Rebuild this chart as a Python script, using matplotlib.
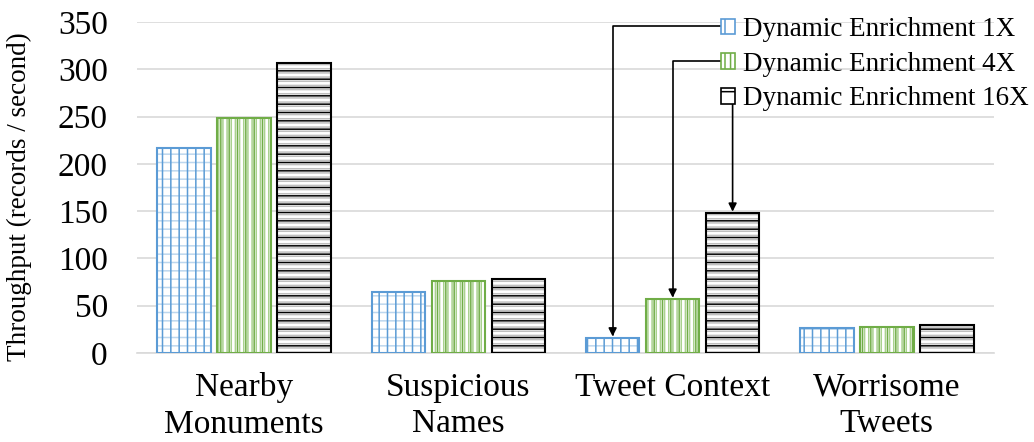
import matplotlib
matplotlib.use("Agg")
import matplotlib.pyplot as plt
import numpy as np
from matplotlib.patches import Patch

# data
categories = ["Nearby\nMonuments", "Suspicious\nNames", "Tweet Context", "Worrisome\nTweets"]
series = ["Dynamic Enrichment 1X", "Dynamic Enrichment 4X", "Dynamic Enrichment 16X"]
vals_1x = [217, 64, 16, 26]
vals_4x = [249, 76, 57, 27]
vals_16x = [307, 78, 148, 30]
yticks = [0, 50, 100, 150, 200, 250, 300, 350]

plt.rcParams["font.family"] = ["Liberation Serif", "DejaVu Serif"]
plt.rcParams["hatch.linewidth"] = 1.1

fig = plt.figure(figsize=(10.34, 4.42), dpi=100)
ax = fig.add_axes([0.1325, 0.2014, 0.8288, 0.7486])

x = np.arange(len(categories))
w = 0.25
off = 0.28

# (values, offset, light hatch, light colour, dark hatch, dark colour, outline)
styles = [
    (vals_1x, -off, "--", "#bdd7ee", "||", "#5b9bd5", "#5b9bd5"),
    (vals_4x, 0.0, "||||", "#a9d18e", "||", "#70ad47", "#70ad47"),
    (vals_16x, off, "----", "#bfbfbf", "--", "black", "black"),
]
for vals, o, h1, c1, h2, c2, ec in styles:
    ax.bar(x + o, vals, w, color="white", edgecolor=c1, hatch=h1, linewidth=0, zorder=2)
    ax.bar(x + o, vals, w, fill=False, edgecolor=c2, hatch=h2, linewidth=0, zorder=3)
    ax.bar(x + o, vals, w, fill=False, edgecolor=ec, linewidth=1.5, zorder=4)

ax.set_xlim(-0.5, 3.5)
ax.set_ylim(0, 350)
ax.set_yticks(yticks)
ax.set_xticks(x)
ax.set_xticklabels(categories, fontsize=24, linespacing=1.25)
ax.tick_params(axis="y", labelsize=24, length=0, pad=21)
ax.tick_params(axis="x", length=0, pad=14)
ax.grid(axis="y", color="#d9d9d9", linewidth=1.2, zorder=0)
ax.set_axisbelow(True)
for s in ["top", "right", "left"]:
    ax.spines[s].set_visible(False)
ax.spines["bottom"].set_color("#d9d9d9")
ax.spines["bottom"].set_linewidth(1.2)
ax.set_ylabel("Throughput (records / second)", fontsize=19.5)
ax.yaxis.set_label_coords(-0.122, 0.474)

handles = [
    Patch(facecolor="white", edgecolor="#5b9bd5", hatch="|", linewidth=1.2),
    Patch(facecolor="white", edgecolor="#70ad47", hatch="|||", linewidth=1.2),
    Patch(facecolor="white", edgecolor="black", hatch="-", linewidth=1.2),
]
leg = fig.legend(handles, series, loc="upper right", bbox_to_anchor=(1.0, 0.974),
                 frameon=False, fontsize=19.5, handlelength=0.5, handleheight=0.5,
                 handletextpad=0.3, labelspacing=0.36, borderpad=0.2, borderaxespad=0)

# arrows from the legend boxes to the Tweet Context bars
fig.canvas.draw()
boxes = [p.get_window_extent() for p in leg.get_patches()]
ci = categories.index("Tweet Context")
for k, (vals, o, *_rest) in enumerate(styles):
    b = boxes[k]
    if k < 2:
        start = (b.x0, (b.y0 + b.y1) / 2)
        cs = "angle,angleA=0,angleB=90,rad=0"
    else:
        bx = ax.transData.transform((x[ci] + o, 0))[0]
        start = (bx, b.y0)
        cs = "arc3"
    ax.annotate("", xy=(x[ci] + o, vals[ci]), xycoords="data",
                xytext=start, textcoords="figure pixels",
                arrowprops=dict(arrowstyle="-|>", color="black", lw=1.2,
                                mutation_scale=12, shrinkA=0, shrinkB=1,
                                connectionstyle=cs),
                zorder=6)

fig.savefig("out.png", dpi=100)
